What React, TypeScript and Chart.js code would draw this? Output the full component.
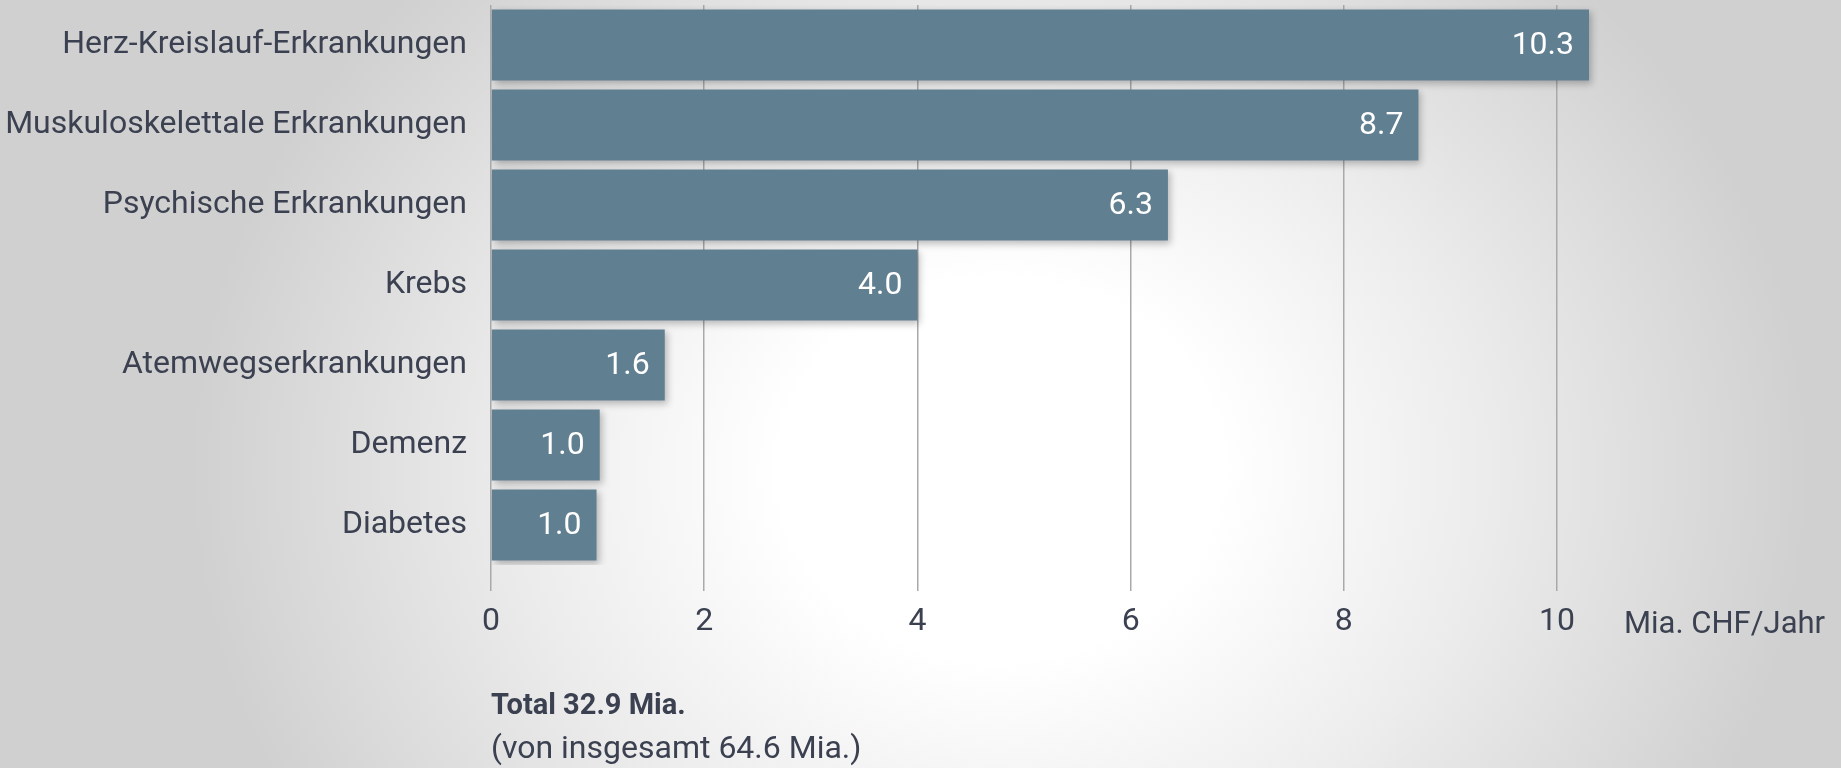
import React, { useEffect, useRef } from "react";
import { Chart, registerables } from "chart.js";

Chart.register(...registerables);

const categories = [
  "Herz-Kreislauf-Erkrankungen",
  "Muskuloskelettale Erkrankungen",
  "Psychische Erkrankungen",
  "Krebs",
  "Atemwegserkrankungen",
  "Demenz",
  "Diabetes",
];
const values = [10.3, 8.7, 6.35, 4.0, 1.63, 1.02, 0.99];
const valueLabels = ["10.3", "8.7", "6.3", "4.0", "1.6", "1.0", "1.0"];
const axisUnit = "Mia. CHF/Jahr";
const totalLine = "Total 32.9 Mia.";
const subLine = "(von insgesamt 64.6 Mia.)";

const FONT = "Roboto, 'DejaVu Sans', sans-serif";
const TEXT = "#3b4150";
const BAR = "#607f91";

const shadowPlugin = {
  id: "barShadow",
  beforeDatasetsDraw(chart: any) {
    const ctx = chart.ctx;
    ctx.save();
    ctx.shadowColor = "rgba(0,0,0,0.25)";
    ctx.shadowBlur = 7;
    ctx.shadowOffsetX = 3;
    ctx.shadowOffsetY = 3;
  },
  afterDatasetsDraw(chart: any) {
    const ctx = chart.ctx;
    ctx.restore();
    const meta = chart.getDatasetMeta(0);
    ctx.save();
    ctx.fillStyle = "#ffffff";
    ctx.font = `400 32px ${FONT}`;
    ctx.textAlign = "right";
    ctx.textBaseline = "middle";
    meta.data.forEach((bar: any, i: number) => {
      ctx.fillText(valueLabels[i], bar.x - 15, bar.y + 1);
    });
    ctx.restore();
  },
};

export default function App() {
  const ref = useRef<HTMLCanvasElement | null>(null);

  useEffect(() => {
    document.body.style.margin = "0";
    if (!ref.current) return;
    const chart = new Chart(ref.current, {
      type: "bar",
      data: {
        labels: categories,
        datasets: [
          {
            data: values,
            backgroundColor: BAR,
            borderWidth: 0,
            categoryPercentage: 1,
            barPercentage: 0.89,
          },
        ],
      },
      options: {
        indexAxis: "y",
        responsive: false,
        animation: false,
        layout: { padding: { top: 5, right: 220, left: 0, bottom: 0 } },
        plugins: { legend: { display: false }, tooltip: { enabled: false } },
        scales: {
          x: {
            min: 0,
            max: 10.6,
            afterFit: (s: any) => {
              s.height = 203;
              s.paddingLeft = 0;
              s.paddingRight = 0;
            },
            border: { display: false },
            grid: {
              color: "#a9a9a9",
              lineWidth: 1.5,
              drawTicks: true,
              tickLength: 26,
            },
            ticks: {
              stepSize: 2,
              includeBounds: false,
              padding: 12,
              color: TEXT,
              font: { family: FONT, size: 32 },
            },
          },
          y: {
            afterFit: (s: any) => {
              s.width = 491;
              s.paddingTop = 0;
              s.paddingBottom = 0;
            },
            border: { display: false },
            grid: { display: false, drawTicks: false },
            ticks: {
              padding: 24,
              color: TEXT,
              font: { family: FONT, size: 32 },
            },
          },
        },
      },
      plugins: [shadowPlugin],
    });
    return () => chart.destroy();
  }, []);

  return (
    <div
      style={{
        position: "absolute",
        left: 0,
        top: 0,
        width: 1841,
        height: 768,
        overflow: "hidden",
        background:
          "radial-gradient(ellipse 880px 760px at 1000px 470px, #ffffff 0%, #ffffff 25%, #ececec 55%, #d0d0d0 92%, #d0d0d0 100%)",
        fontFamily: FONT,
        color: TEXT,
      }}
    >
      <canvas ref={ref} width={1841} height={768} style={{ position: "absolute", left: 0, top: 0 }} />
      <div style={{ position: "absolute", left: 1624, top: 605, fontSize: 31, lineHeight: "36px", whiteSpace: "nowrap" }}>
        {axisUnit}
      </div>
      <div style={{ position: "absolute", left: 491, top: 686, fontSize: 29, lineHeight: "36px", fontWeight: 700, whiteSpace: "nowrap" }}>
        {totalLine}
      </div>
      <div style={{ position: "absolute", left: 491, top: 729, fontSize: 32, lineHeight: "36px", whiteSpace: "nowrap" }}>
        {subLine}
      </div>
    </div>
  );
}
